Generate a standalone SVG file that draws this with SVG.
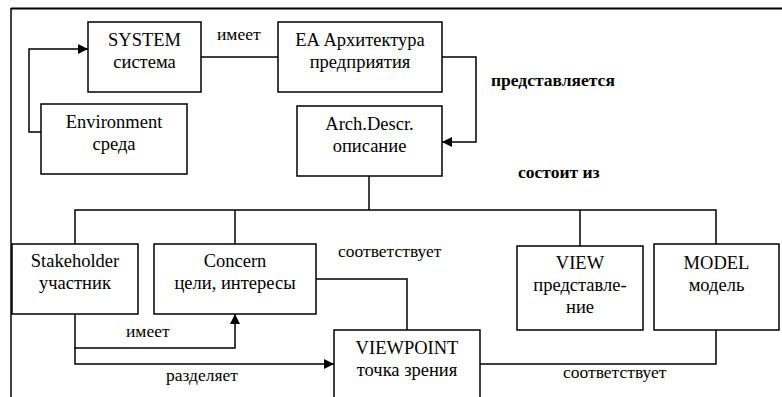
<svg xmlns="http://www.w3.org/2000/svg" width="782" height="397" viewBox="0 0 782 397">
<style>
.box{fill:#fff;stroke:#000;stroke-width:1.5}
text{font-family:'Liberation Serif',Tinos,'Times New Roman','DejaVu Serif',serif;fill:#000}
.t{font-size:18.5px;text-anchor:middle}
.l{font-size:17.5px}
.b{font-weight:bold}
.c{fill:none;stroke:#000;stroke-width:1.5}
</style>
<defs>
<marker id="ah" viewBox="0 0 10 10" refX="10" refY="5" markerWidth="10" markerHeight="10" markerUnits="userSpaceOnUse" orient="auto">
<path d="M0,0 L10,5 L0,10 Z" fill="#000"/>
</marker>
</defs>
<rect width="782" height="397" fill="#fff"/>
<g id="frame">
<path d="M11,8.5 H782" stroke="#000" stroke-width="2" fill="none"/>
<path d="M11,8 V397" stroke="#000" stroke-width="1.5" fill="none"/>
</g>
<g id="connectors">
<path class="c" d="M201,57 H278"/>
<path class="c" d="M41,132 H29 V49 H88" marker-end="url(#ah)"/>
<path class="c" d="M442,57 H476 V142 H442" marker-end="url(#ah)"/>
<path class="c" d="M369,176 V210"/>
<path class="c" d="M75,244 V210 H716 V244"/>
<path class="c" d="M235,210 V244"/>
<path class="c" d="M580,210 V246"/>
<path class="c" d="M316,279 H407 V330"/>
<path class="c" d="M75,314 V348 H235 V314" marker-end="url(#ah)"/>
<path class="c" d="M75,348 V364 H334" marker-end="url(#ah)"/>
<path class="c" d="M716,330 V364 H480"/>
</g>
<g id="labels">
<text class="l" x="217" y="40" font-family="Liberation Serif, serif">имеет</text>
<text class="l b" x="491" y="86">представляется</text>
<text class="l b" x="518" y="178">состоит из</text>
<text class="l" x="338" y="257">соответствует</text>
<text class="l" x="126" y="337">имеет</text>
<text class="l" x="166" y="381">разделяет</text>
<text class="l" x="563" y="378">соответствует</text>
</g>
<g id="system">
<rect class="box" x="88" y="22" width="113" height="70"/>
<text class="t" x="144.5" y="46">SYSTEM</text>
<text class="t" x="144.5" y="68">система</text>
</g>
<g id="ea">
<rect class="box" x="278" y="22" width="164" height="70"/>
<text class="t" x="360" y="46">EA Архитектура</text>
<text class="t" x="360" y="68">предприятия</text>
</g>
<g id="environment">
<rect class="box" x="41" y="104" width="146" height="70"/>
<text class="t" x="114" y="128">Environment</text>
<text class="t" x="114" y="150">среда</text>
</g>
<g id="archdescr">
<rect class="box" x="297" y="106" width="145" height="70"/>
<text class="t" x="369.5" y="130">Arch.Descr.</text>
<text class="t" x="369.5" y="152">описание</text>
</g>
<g id="stakeholder">
<rect class="box" x="12" y="244" width="126" height="70"/>
<text class="t" x="75" y="267">Stakeholder</text>
<text class="t" x="75" y="289">участник</text>
</g>
<g id="concern">
<rect class="box" x="154" y="244" width="162" height="70"/>
<text class="t" x="235" y="267">Concern</text>
<text class="t" x="235" y="289">цели, интересы</text>
</g>
<g id="view">
<rect class="box" x="517" y="246" width="126" height="84"/>
<text class="t" x="580" y="269">VIEW</text>
<text class="t" x="580" y="291">представле-</text>
<text class="t" x="580" y="313">ние</text>
</g>
<g id="model">
<rect class="box" x="654" y="244" width="125" height="86"/>
<text class="t" x="716.5" y="269">MODEL</text>
<text class="t" x="716.5" y="291">модель</text>
</g>
<g id="viewpoint">
<rect class="box" x="334" y="330" width="146" height="80"/>
<text class="t" x="407" y="354">VIEWPOINT</text>
<text class="t" x="407" y="376">точка зрения</text>
</g>
</svg>
